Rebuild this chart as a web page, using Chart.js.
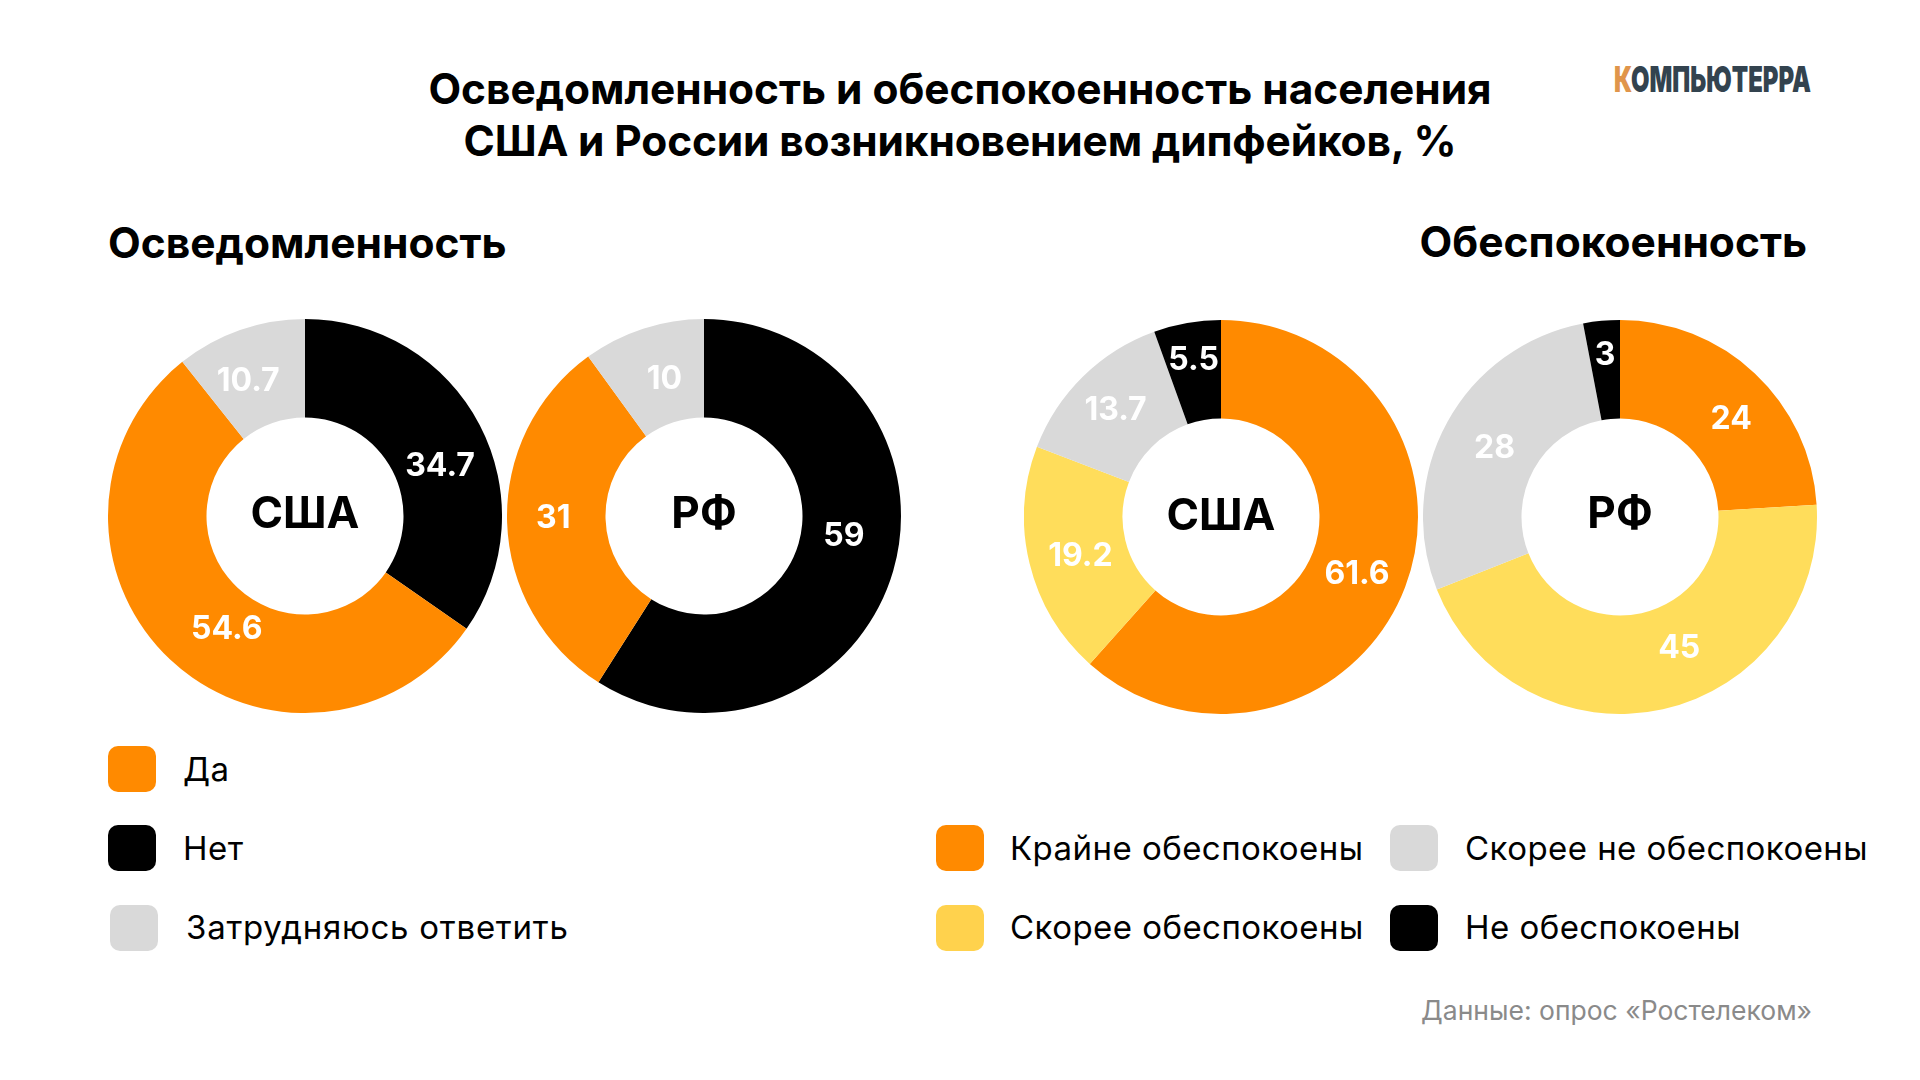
<!DOCTYPE html>
<html lang="ru">
<head>
<meta charset="utf-8">
<title>Осведомленность и обеспокоенность</title>
<script src="https://cdn.jsdelivr.net/npm/chart.js@4"></script>
<style>
    html, body { margin: 0; padding: 0; background: #fff; }
    body { width: 1920px; height: 1080px; position: relative; overflow: hidden; font-family: Inter, sans-serif; color: #000; }
    .abs { position: absolute; white-space: nowrap; }
    canvas { position: absolute; }
    .title { left: 0; width: 1920px; top: 63px; text-align: center; font-size: 42.4px; line-height: 52px; font-weight: 700; }
    .title span { letter-spacing: -0.12px; }
    .sub { font-size: 42.5px; line-height: 50px; font-weight: 700; }
    .sw { position: absolute; width: 48px; height: 46px; border-radius: 10px; }
    .leg { font-size: 33px; line-height: 40px; letter-spacing: 0.45px; }
    .source { font-size: 26.5px; line-height: 34px; color: #8a8a8a; }
    .logo { left: 1614px; top: 53px; font-size: 36px; line-height: 52px; font-weight: 900; color: #33434f; transform: scaleX(0.663); transform-origin: 0 0; }
    .logo span { color: #e0954b; }
</style>
</head>
<body>
<div class="abs title">Осведомленность и обеспокоенность населения<br><span>США и России возникновением дипфейков, %</span></div>
<div class="abs logo"><span>К</span>ОМПЬЮТЕРРА</div>
<div class="abs sub" style="left:108px;top:218px">Осведомленность</div>
<div class="abs sub" style="right:113px;top:217px">Обеспокоенность</div>

<canvas id="chartUSA1" width="394" height="394" style="left:108px;top:319px;width:394px;height:394px"></canvas>
<canvas id="chartRU1" width="394" height="394" style="left:507px;top:319px;width:394px;height:394px"></canvas>
<canvas id="chartUSA2" width="394" height="394" style="left:1024px;top:320px;width:394px;height:394px"></canvas>
<canvas id="chartRU2" width="394" height="394" style="left:1423px;top:320px;width:394px;height:394px"></canvas>

<div class="sw" style="left:108px;top:746px;background:#ff8a00"></div>
<div class="abs leg" style="left:183px;top:749px">Да</div>
<div class="sw" style="left:108px;top:825px;background:#000"></div>
<div class="abs leg" style="left:183px;top:828px">Нет</div>
<div class="sw" style="left:110px;top:905px;background:#d9d9d9"></div>
<div class="abs leg" style="left:186px;top:907px;letter-spacing:0.75px">Затрудняюсь ответить</div>

<div class="sw" style="left:936px;top:825px;background:#ff8a00"></div>
<div class="abs leg" style="left:1010px;top:828px">Крайне обеспокоены</div>
<div class="sw" style="left:936px;top:905px;background:#ffd24d"></div>
<div class="abs leg" style="left:1010px;top:907px">Скорее обеспокоены</div>
<div class="sw" style="left:1390px;top:825px;background:#d9d9d9"></div>
<div class="abs leg" style="left:1465px;top:828px">Скорее не обеспокоены</div>
<div class="sw" style="left:1390px;top:905px;background:#000"></div>
<div class="abs leg" style="left:1465px;top:907px">Не обеспокоены</div>

<div class="abs source" style="right:108px;top:993px">Данные: опрос «Ростелеком»</div>

<script>
    var awarenessLabels = ["Нет", "Да", "Затрудняюсь ответить"];
    var awarenessUSA = [34.7, 54.6, 10.7];
    var awarenessRU = [59, 31, 10];

    var concernLabels = ["Крайне обеспокоены", "Скорее обеспокоены", "Скорее не обеспокоены", "Не обеспокоены"];
    var concernUSA = [61.6, 19.2, 13.7, 5.5];
    var concernRU = [24, 45, 28, 3];

    var awarenessColors = ["#000000", "#ff8a00", "#d9d9d9"];
    var concernColors = ["#ff8a00", "#ffdd5b", "#d9d9d9", "#000000"];

    // подписи в исходнике сдвинуты от центра сектора вручную
    var sliceLabels = {
        id: "sliceLabels",
        afterDatasetsDraw: function (chart, args, opts) {
            var ctx = chart.ctx;
            var arcs = chart.getDatasetMeta(0).data;
            var values = chart.data.datasets[0].data;
            var box = chart.chartArea;

            ctx.save();
            ctx.textAlign = "center";
            ctx.textBaseline = "middle";
            ctx.fillStyle = "#ffffff";
            ctx.font = "700 32px Inter";
            arcs.forEach(function (arc, i) {
                var p = arc.getCenterPoint();
                ctx.fillText(String(values[i]), p.x + opts.nudge[i][0], p.y + opts.nudge[i][1] + 2.5);
            });
            ctx.fillStyle = "#000000";
            ctx.font = "700 44px Inter";
            ctx.fillText(opts.center, (box.left + box.right) / 2, (box.top + box.bottom) / 2 + opts.centerY);
            ctx.restore();
        }
    };

    function drawDonut(id, labels, values, colors, center, centerY, nudge) {
        new Chart(document.getElementById(id), {
            type: "doughnut",
            data: {
                labels: labels,
                datasets: [{
                    data: values,
                    backgroundColor: colors,
                    borderWidth: 0
                }]
            },
            options: {
                responsive: false,
                animation: false,
                cutout: "50%",
                events: [],
                layout: { padding: 0 },
                plugins: {
                    legend: { display: false },
                    tooltip: { enabled: false },
                    sliceLabels: { center: center, centerY: centerY, nudge: nudge }
                }
            },
            plugins: [sliceLabels]
        });
    }

    drawDonut("chartUSA1", awarenessLabels, awarenessUSA, awarenessColors, "США", -1, [[4, 16], [23, 3], [-8, 2]]);
    drawDonut("chartRU1", awarenessLabels, awarenessRU, awarenessColors, "РФ", -1, [[-2, -23], [-3, -5], [6, 1]]);
    drawDonut("chartUSA2", concernLabels, concernUSA, concernColors, "США", 0, [[-2, 2], [3, 2], [-2, -4], [-2, -14]]);
    drawDonut("chartRU2", concernLabels, concernRU, concernColors, "РФ", -2, [[10, 8], [27, -15], [4, 0], [-1, -17]]);
</script>
</body>
</html>
